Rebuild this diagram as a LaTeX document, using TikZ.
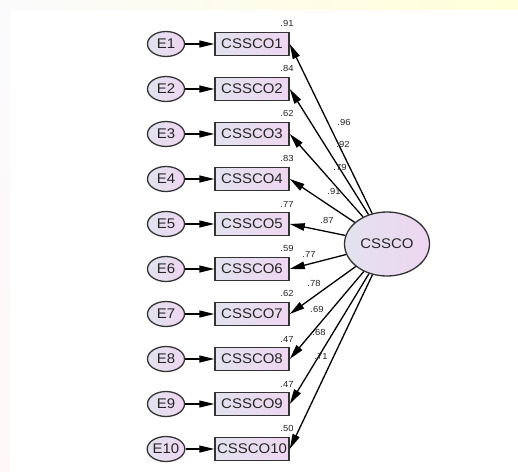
\documentclass[tikz,border=0pt]{standalone}
\usepackage{fontspec}
\setmainfont[FakeStretch=1.07]{Liberation Sans}
\usetikzlibrary{arrows.meta,shapes.geometric}

\definecolor{edge}{HTML}{333333}
\definecolor{fillL}{HTML}{E3E2EF}
\definecolor{fillR}{HTML}{EED6F1}
\definecolor{txt}{HTML}{262626}

\tikzset{
  errvar/.style={ellipse, draw=edge, line width=1.3pt, left color=fillL, right color=fillR,
    minimum width=37pt, minimum height=25pt, inner sep=0pt, text=txt,
    font=\fontsize{14}{16}\selectfont},
  item/.style={rectangle, draw=edge, line width=1.5pt, left color=fillL, right color=fillR,
    minimum width=74pt, minimum height=23pt, inner sep=0pt, text=txt,
    font=\fontsize{14}{16}\selectfont},
  factor/.style={ellipse, draw=edge, line width=1.3pt, left color=fillL, right color=fillR,
    minimum width=85pt, minimum height=64pt, inner sep=0pt, text=txt,
    font=\fontsize{14}{16}\selectfont},
  errarrow/.style={line width=1.3pt, -{Triangle[length=15pt,width=7pt]}},
  load/.style={line width=1.3pt, -{Triangle[length=15pt,width=7.5pt]}},
  coef/.style={inner sep=0pt, text=txt, font=\fontsize{8.8}{10}\selectfont},
}

\begin{document}
\begin{tikzpicture}[x=1pt, y=-1pt]
  \useasboundingbox (0,0) rectangle (518,471);
  % page edges
  \fill[white] (0,0) rectangle (518,471);
  \fill[left color=white!85!fillL, right color=white!85!yellow] (0,0) rectangle (518,9);
  \fill[top color=white!85!fillL, bottom color=white!88!pink] (0,9) rectangle (10,471);

  % latent factor
  \node[factor] (C) at (387,244) {CSSCO};

  % indicators with their error terms
  \foreach \i/\r in {1/.91,2/.84,3/.62,4/.83,5/.77,6/.59,7/.62,8/.47,9/.47,10/.50} {
    \pgfmathsetmacro{\yy}{44+45*(\i-1)}
    \node[item] (B\i) at (252,\yy) {CSSCO\i};
    \node[errvar] (E\i) at (166,\yy) {E\i};
    \draw[errarrow] (E\i) -- (B\i);
    \node[coef, anchor=south east] (R\i) at ([xshift=4pt,yshift=4.5pt]B\i.north east) {\r};
    \draw[load] (C) -- (B\i.east);
  }

  % standardized loadings
  \node[coef] (L1)  at (344,122) {.96};
  \node[coef] (L2)  at (343,144) {.92};
  \node[coef] (L3)  at (340,167) {.79};
  \node[coef] (L4)  at (334,191) {.91};
  \node[coef] (L5)  at (327,220) {.87};
  \node[coef] (L6)  at (309,254) {.77};
  \node[coef] (L7)  at (314,283) {.78};
  \node[coef] (L8)  at (317,309) {.69};
  \node[coef] (L9)  at (319,332) {.68};
  \node[coef] (L10) at (321,356) {.71};
\end{tikzpicture}
\end{document}
